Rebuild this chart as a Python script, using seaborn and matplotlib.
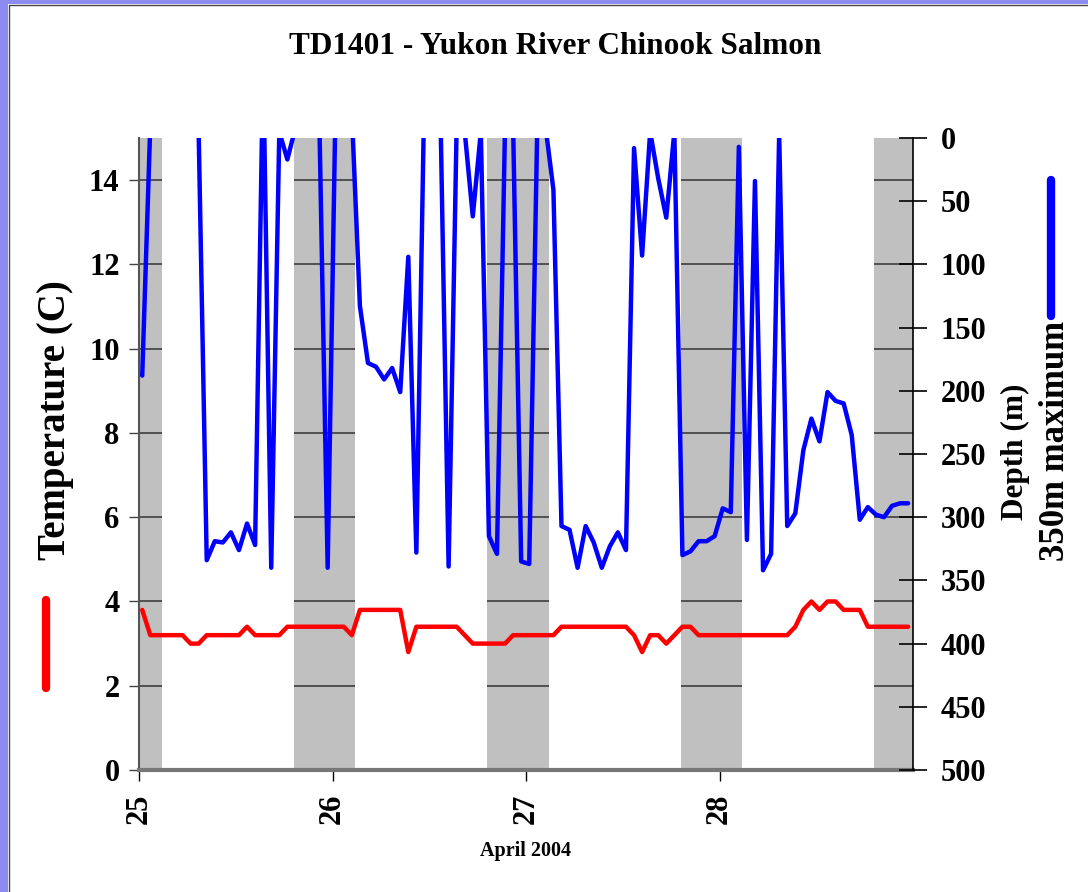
import numpy as np
import pandas as pd
import matplotlib
matplotlib.use("Agg")
import matplotlib.pyplot as plt
from matplotlib.lines import Line2D
from matplotlib.patches import Rectangle
import seaborn as sns

# ---- data -------------------------------------------------------------
title = "TD1401 - Yukon River Chinook Salmon"
x_label = "April 2004"
temp_label = "Temperature (C)"
depth_label = "Depth (m)"
depth_note = "350m maximum"

# hourly records starting 25 April 2004
hour_index = list(range(96))

temperature_c = [
    3.8, 3.2, 3.2, 3.2, 3.2, 3.2, 3.0, 3.0, 3.2, 3.2,
    3.2, 3.2, 3.2, 3.4, 3.2, 3.2, 3.2, 3.2, 3.4, 3.4,
    3.4, 3.4, 3.4, 3.4, 3.4, 3.4, 3.2, 3.8, 3.8, 3.8,
    3.8, 3.8, 3.8, 2.8, 3.4, 3.4, 3.4, 3.4, 3.4, 3.4,
    3.2, 3.0, 3.0, 3.0, 3.0, 3.0, 3.2, 3.2, 3.2, 3.2,
    3.2, 3.2, 3.4, 3.4, 3.4, 3.4, 3.4, 3.4, 3.4, 3.4,
    3.4, 3.2, 2.8, 3.2, 3.2, 3.0, 3.2, 3.4, 3.4, 3.2,
    3.2, 3.2, 3.2, 3.2, 3.2, 3.2, 3.2, 3.2, 3.2, 3.2,
    3.2, 3.4, 3.8, 4.0, 3.8, 4.0, 4.0, 3.8, 3.8, 3.8,
    3.4, 3.4, 3.4, 3.4, 3.4, 3.4,
]

# negative values are near-surface excursions that run off the top of the depth scale
depth_m = [
    188, -10, -40, -40, -40, -40, -40, -5, 334, 319,
    320, 312, 326, 305, 322, -60, 340, -5, 17, -8,
    -30, -30, -3, 340, -35, -40, -20, 133, 178, 181,
    191, 182, 201, 94, 328, -40, -40, -16, 339, -10,
    -5, 62, -5, 315, 329, -10, -10, 335, 337, -10,
    -10, 41, 307, 310, 340, 307, 320, 340, 323, 312,
    326, 8, 93, -5, 32, 63, -5, 330, 327, 319,
    319, 315, 293, 296, 7, 318, 34, 342, 329, -3,
    307, 297, 247, 222, 240, 201, 208, 210, 235, 302,
    292, 298, 300, 291, 289, 289,
]

day_ticks = [25, 26, 27, 28]
temp_ticks = [0, 2, 4, 6, 8, 10, 12, 14]
depth_ticks = [0, 50, 100, 150, 200, 250, 300, 350, 400, 450, 500]

# night periods (sunset .. sunrise), in days of April
night_start = [24.80, 25.80, 26.80, 27.80, 28.80]
night_end = [25.117, 26.117, 27.117, 28.117, 29.117]

# ---- frame ------------------------------------------------------------
days = 25 + (np.array(hour_index) + 0.4) / 24.0
df = pd.DataFrame({"day": days, "temperature": temperature_c, "depth": depth_m})

sns.set_theme(style="white")
plt.rcParams["font.family"] = ["Liberation Serif", "DejaVu Serif"]
plt.rcParams["font.weight"] = "bold"
for key in ("text.color", "axes.labelcolor", "xtick.color", "ytick.color",
            "xtick.labelcolor", "ytick.labelcolor"):
    plt.rcParams[key] = "black"

W, H = 1088, 892
fig = plt.figure(figsize=(W / 100, H / 100), dpi=100)
fig.patch.set_facecolor("white")

# window border on the left and top edges
fig.add_artist(Rectangle((0, 0), 8 / W, 1, transform=fig.transFigure,
                         facecolor="#8c8cf0", edgecolor="none", zorder=10))
fig.add_artist(Rectangle((0, 1 - 4 / H), 1, 4 / H, transform=fig.transFigure,
                         facecolor="#8c8cf0", edgecolor="none", zorder=10))
fig.add_artist(Line2D([8.5 / W, 8.5 / W], [0, 1 - 4.5 / H], transform=fig.transFigure,
                      color="#444444", lw=1, zorder=11))
fig.add_artist(Line2D([8.5 / W, 1], [1 - 4.5 / H, 1 - 4.5 / H], transform=fig.transFigure,
                      color="#444444", lw=1, zorder=11))

x0, x1, y_top, y_bot = 139, 913, 138, 770
ax = fig.add_axes([x0 / W, 1 - y_bot / H, (x1 - x0) / W, (y_bot - y_top) / H])
ax.set_facecolor("white")
ax.set_xlim(25, 29)
ax.set_ylim(0, 15)

# night shading with gridlines visible only inside the shaded bands
for s, e in zip(night_start, night_end):
    ax.axvspan(s, e, color="#c0c0c0", lw=0, zorder=0)
    ax.hlines(temp_ticks[1:], max(s, 25), min(e, 29), color="#333333", lw=1.1, zorder=1)

sns.lineplot(data=df, x="day", y="temperature", color="#ff0000", lw=3.2, ax=ax, zorder=3)

ax2 = ax.twinx()
sns.lineplot(data=df, x="day", y="depth", color="#0000ff", lw=3.2, ax=ax2, zorder=3)
ax2.set_ylim(500, 0)
ax2.set_xlim(25, 29)

for a in (ax, ax2):
    a.set_xlabel("")
    a.set_ylabel("")
    a.spines["top"].set_visible(False)
    a.grid(False)

ax.spines["right"].set_visible(False)
ax.spines["left"].set_color("#555555")
ax.spines["left"].set_linewidth(1.5)
ax.spines["bottom"].set_color("#777777")
ax.spines["bottom"].set_linewidth(3)
ax2.spines["left"].set_visible(False)
ax2.spines["bottom"].set_visible(False)
ax2.spines["right"].set_color("black")
ax2.spines["right"].set_linewidth(1.2)

ax.set_xticks(day_ticks)
ax.set_xticklabels([str(d) for d in day_ticks])
ax.set_yticks(temp_ticks)
ax.set_yticklabels([str(t) for t in temp_ticks])
ax2.set_yticks(depth_ticks)
ax2.set_yticklabels([str(d) for d in depth_ticks])

ax.tick_params(axis="x", bottom=True, direction="out", length=8, width=1, color="black",
               labelsize=22, pad=9, labelrotation=90, labelcolor="black")
ax.tick_params(axis="y", left=True, direction="out", length=7, width=1, color="#444444",
               labelsize=22, pad=7, labelcolor="black")
ax2.tick_params(axis="y", right=True, direction="inout", length=20, width=1.2, color="black",
                labelsize=22, pad=10, labelcolor="black")

# titles and axis captions
fig.text(555 / W, 1 - 47 / H, title, ha="center", va="center", fontsize=22.5,
         fontweight="bold", color="black")
fig.text(525 / W, 1 - 851 / H, x_label, ha="center", va="center", fontsize=14.5,
         fontweight="bold", color="black")
fig.text(55 / W, 1 - 420 / H, temp_label, rotation=90, ha="center", va="center",
         fontsize=28, fontweight="bold", color="black")
fig.text(1015 / W, 1 - 452 / H, depth_label, rotation=90, ha="center", va="center",
         fontsize=22.5, fontweight="bold", color="black")
fig.text(1056 / W, 1 - 441 / H, depth_note, rotation=90, ha="center", va="center",
         fontsize=25, fontweight="bold", color="black")

# series keys beside the axis captions
fig.add_artist(Line2D([46 / W, 46 / W], [1 - 600 / H, 1 - 688 / H], transform=fig.transFigure,
                      color="#ff0000", lw=6, solid_capstyle="round"))
fig.add_artist(Line2D([1051 / W, 1051 / W], [1 - 180 / H, 1 - 316 / H], transform=fig.transFigure,
                      color="#0000ff", lw=6, solid_capstyle="round"))

fig.savefig("out.png", dpi=100)
